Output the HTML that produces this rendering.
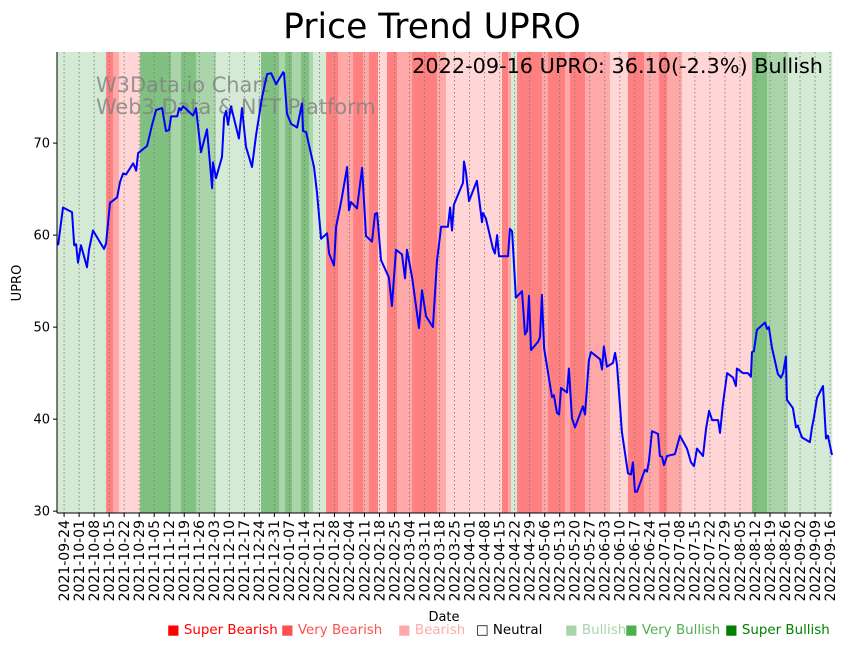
<!DOCTYPE html>
<html><head><meta charset="utf-8"><style>
body{margin:0;background:#fff;width:848px;height:646px;overflow:hidden;font-family:"DejaVu Sans","Liberation Sans",sans-serif}
</style></head><body>
<svg id="chart" width="848" height="646" xmlns="http://www.w3.org/2000/svg" font-family="DejaVu Sans, Liberation Sans, sans-serif">
<text x="432" y="38" font-size="34.5" text-anchor="middle">Price Trend UPRO</text>
<g id="bands"></g>
<g id="grid"></g>
<g fill="#808080" fill-opacity="0.8" font-size="20.9">
<text x="96" y="92">W3Data.io Chart</text>
<text x="96" y="114">Web3 Data &amp; NFT Platform</text>
</g>
<path id="line" fill="none" stroke="#0000ff" stroke-width="2" stroke-linejoin="round"/>
<text x="823" y="73" font-size="20.8" text-anchor="end">2022-09-16 UPRO: 36.10(-2.3%) Bullish</text>
<g id="yaxis"></g>
<g id="xaxis"></g>
<text transform="translate(21,283) rotate(-90)" font-size="13" text-anchor="middle">UPRO</text>
<text x="444" y="621" font-size="13" text-anchor="middle">Date</text>
<g id="legend" font-size="13.4"></g>
</svg>
<script>
const days=[-2.8,-0.5,3.7,4.7,5.6,6.5,7.9,10.7,11.6,13.5,18.6,19.6,21.4,24.7,26.1,27.5,28.9,32.2,33.6,34.5,38.7,41.0,42.9,45.7,47.5,48.9,49.9,52.7,53.6,54.5,55.5,60.1,61.5,63.8,66.6,69.0,69.4,70.8,73.6,74.6,75.5,76.4,77.8,81.5,82.9,84.8,87.6,89.5,92.3,94.6,96.5,98.8,102.1,102.5,103.9,105.8,108.6,110.9,111.4,112.8,116.5,117.9,119.8,122.6,123.5,125.8,126.8,128.6,129.5,131.9,132.8,133.7,136.5,138.9,140.7,143.5,144.9,145.9,147.7,151.4,152.8,154.7,157.5,158.9,159.8,162.2,165.4,166.8,168.7,171.9,173.8,175.7,178.9,179.9,180.8,181.7,183.1,185.9,186.4,187.3,188.7,192.4,194.8,195.2,196.6,199.9,200.8,201.8,202.7,206.9,207.8,208.8,210.6,213.4,214.8,215.8,216.7,217.6,220.9,221.8,222.7,223.7,227.4,228.3,229.7,230.7,231.6,234.4,235.3,236.7,238.1,241.8,242.8,244.6,245.6,249.8,250.7,251.6,253.0,255.8,256.8,257.7,260.0,262.8,264.2,265.1,266.1,267.0,270.7,271.7,272.6,274.0,276.8,277.7,278.7,279.6,281.0,284.7,287.0,290.3,292.2,293.6,295.0,297.8,299.2,300.6,302.0,304.8,305.7,307.1,309.0,311.8,313.1,313.6,316.4,318.7,320.1,320.6,321.5,322.9,326.7,327.6,328.5,329.9,332.7,334.1,335.1,336.4,336.9,339.7,341.1,342.0,342.5,343.9,347.6,348.6,349.5,350.9,353.7,355.1,356.0,357.9];
const prices=[58.9,63.0,62.5,58.9,59.0,57.0,58.9,56.5,58.4,60.5,58.5,59.1,63.5,64.1,65.8,66.7,66.6,67.8,67.0,68.9,69.7,72.0,73.6,73.8,71.3,71.4,72.9,72.9,73.8,73.6,74.0,73.0,73.8,69.0,71.5,65.1,67.9,66.2,68.5,72.8,73.5,72.0,74.0,70.5,73.8,69.6,67.4,70.9,75.0,77.5,77.6,76.4,77.7,77.6,73.2,72.1,71.7,74.3,71.3,71.2,67.4,64.6,59.6,60.2,58.0,56.7,60.9,63.0,64.1,67.4,62.7,63.6,62.9,67.3,59.9,59.3,62.3,62.4,57.3,55.4,52.3,58.4,57.9,55.3,58.4,55.4,49.9,54.0,51.2,50.0,57.2,60.9,60.9,63.0,60.5,63.3,64.1,65.7,68.0,66.8,63.7,65.9,61.4,62.4,61.8,58.5,58.0,60.0,57.7,57.7,60.7,60.4,53.2,53.9,49.2,49.6,53.4,47.5,48.4,48.9,53.5,47.7,42.4,42.6,40.7,40.5,43.4,42.9,45.5,40.1,39.1,41.4,40.5,46.4,47.3,46.5,45.4,47.9,45.7,46.1,47.2,45.9,38.6,34.1,34.0,35.3,32.1,32.1,34.5,34.3,35.5,38.7,38.4,36.0,35.9,35.0,36.0,36.2,38.2,36.8,35.3,34.9,36.8,36.0,39.0,40.9,39.9,39.9,38.5,41.7,45.0,44.5,43.6,45.5,45.0,45.0,44.6,47.3,47.4,49.7,50.5,49.8,50.0,47.8,44.9,44.5,45.0,46.8,42.1,41.2,39.1,39.3,38.9,38.0,37.5,39.1,40.2,42.3,43.6,37.9,38.2,36.1];
const bandStart=[-3.3,19.6,22.8,25.6,35.4,49.9,54.5,61.5,70.8,91.8,100.2,103,106.2,110.4,114.2,116,122.1,127.7,134.7,139.3,142.1,146.3,150.5,155.2,162.2,173.8,178,204.1,206.9,208.3,211.1,222.7,225.5,233.5,235.8,242.8,254.4,262.8,270.3,277.3,281,288,320.6,327.6,337.4];
const bandEnd=[19.6,22.8,25.6,35.4,49.9,54.5,61.5,70.8,91.8,100.2,103,106.2,110.4,114.2,116,122.1,127.7,134.7,139.3,142.1,146.3,150.5,155.2,162.2,173.8,178,204.1,206.9,208.3,211.1,222.7,225.5,233.5,235.8,242.8,254.4,262.8,270.3,277.3,281,288,320.6,327.6,337.4,357.9];
const bandLevel=[1,-3,-2,-1,3,2,3,2,1,3,2,3,2,3,2,1,-3,-2,-3,-2,-3,-1,-3,-2,-3,-2,-1,-3,-2,1,-3,-2,-3,-2,-3,-2,-1,-3,-2,-3,-2,-1,3,2,1];
const yTicks=[30,40,50,60,70];
const legendLabels=["Super Bearish","Very Bearish","Bearish","Neutral","Bullish","Very Bullish","Super Bullish"];

const NS="http://www.w3.org/2000/svg";
const X0=57,X1=832,Y0=52,Y1=513;
const dMin=-3.3,dMax=357.9,vMin=29.8,vMax=79.9;
const xs=d=>X0+(d-dMin)/(dMax-dMin)*(X1-X0);
const ys=v=>Y1-(v-vMin)/(vMax-vMin)*(Y1-Y0);
function mk(tag,attrs,parent){const e=document.createElementNS(NS,tag);for(const k in attrs)e.setAttribute(k,attrs[k]);parent.appendChild(e);return e;}
const bandColors={"-3":"#ff8080","-2":"#ffa8a8","-1":"#ffd5d5","0":"#ffffff","1":"#d5ead5","2":"#aad5aa","3":"#80c080"};
const gB=document.getElementById('bands');
bandStart.forEach((s,i)=>{
  const r=mk('rect',{x:xs(s),y:Y0,width:Math.max(0,xs(bandEnd[i])-xs(s))+0.3,height:Y1-Y0,fill:bandColors[bandLevel[i]]},gB);
  
  
});
const start=new Date(Date.UTC(2021,8,24));
const gG=document.getElementById('grid'),gX=document.getElementById('xaxis');
for(let w=0;w<=51;w++){
  const d=w*7,x=xs(d);
  const dt=new Date(start.getTime()+d*86400000);
  const lab=dt.toISOString().slice(0,10);
  const gl=mk('line',{x1:x,x2:x,y1:Y0,y2:Y1,stroke:'#777',"stroke-width":0.8,"stroke-dasharray":"1.5,2.5"},gG);
  
  
  const tk=mk('line',{x1:x,x2:x,y1:Y1,y2:Y1+4,stroke:'#000'},gX);
  
  
  const t=mk('text',{transform:`translate(${x+4.8},${Y1+7}) rotate(-90)`,"font-size":14,"text-anchor":"end"},gX);
  t.textContent=lab;
  
  
}
mk('line',{x1:X0,x2:X1,y1:Y1,y2:Y1,stroke:'#000',"stroke-width":1},gX);
const gY=document.getElementById('yaxis');
mk('line',{x1:X0,x2:X0,y1:Y0,y2:Y1,stroke:'#000',"stroke-width":1},gY);
yTicks.forEach(v=>{
  const y=ys(v);
  const tk=mk('line',{x1:X0-4,x2:X0,y1:y,y2:y,stroke:'#000'},gY);
  
  
  const t=mk('text',{x:X0-7,y:y+4.5,"font-size":13,"text-anchor":"end"},gY);
  t.textContent=v;
  
  
});
document.getElementById('line').setAttribute('d',days.map((d,i)=>(i?'L':'M')+xs(d).toFixed(1)+','+ys(prices[i]).toFixed(1)).join(''));
const legColors=["#ff0000","#ff5050","#ffaaaa","#000000","#aad5aa","#50b050","#008000"];
const legX=[167,281,398,476,565,625,725];
const gL=document.getElementById('legend');
legendLabels.forEach((l,i)=>{
  const t=mk('text',{x:legX[i],y:634,fill:legColors[i]},gL);
  t.textContent=(i===3?'□ ':'■ ')+l;
  
  
});
</script>
</body></html>
